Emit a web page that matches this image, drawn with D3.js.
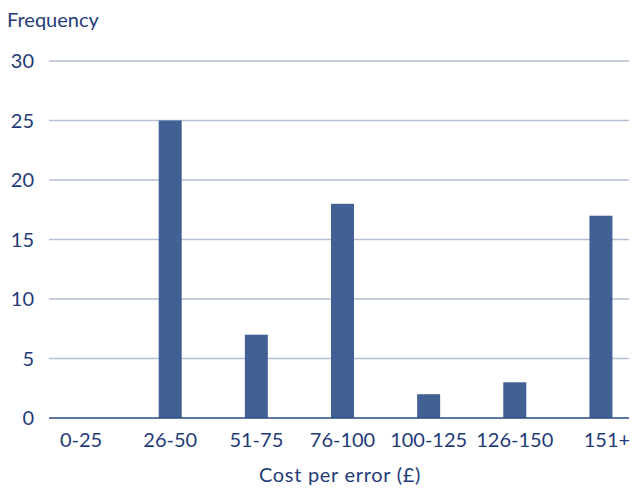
<!DOCTYPE html>
<html>
<head>
<meta charset="utf-8">
<script src="https://cdn.jsdelivr.net/npm/d3@7"></script>
<style>
  html, body { margin: 0; padding: 0; background: #fff; }
  svg { display: block; }
  text { font-family: Lato, "Open Sans", sans-serif; fill: #1f3b78; }
</style>
</head>
<body>
<script>
// Cost-per-error frequency distribution
const categories = ["0-25", "26-50", "51-75", "76-100", "100-125", "126-150", "151+"];
const frequencies = [0, 25, 7, 18, 2, 3, 17];
const yTicks = [0, 5, 10, 15, 20, 25, 30];
const yTitle = "Frequency";
const xTitle = "Cost per error (£)";

const W = 634, H = 490;
const plotLeft = 49, plotRight = 629;
const yTop = 61, yBottom = 418;

const svg = d3.select("body").append("svg")
  .attr("width", W).attr("height", H);

const x = d3.scaleBand()
  .domain(categories)
  .range([41, 644]);

const y = d3.scaleLinear()
  .domain([0, 30])
  .range([yBottom, yTop]);

const barW = 23;

// horizontal gridlines
svg.append("g")
  .selectAll("line")
  .data(yTicks.filter(d => d > 0))
  .join("line")
  .attr("x1", plotLeft).attr("x2", plotRight)
  .attr("y1", d => y(d)).attr("y2", d => y(d))
  .attr("stroke", "#b4bfd4").attr("stroke-width", 1.3);

// y tick labels
svg.append("g")
  .selectAll("text")
  .data(yTicks)
  .join("text")
  .attr("x", 34)
  .attr("y", d => y(d))
  .attr("dy", "0.36em")
  .attr("text-anchor", "end")
  .attr("font-size", 20)
  .text(d => d);

// bars
svg.append("g")
  .selectAll("rect")
  .data(categories.map((c, i) => ({ c, v: frequencies[i] })))
  .join("rect")
  .attr("x", d => x(d.c) + x.bandwidth() / 2 - barW / 2)
  .attr("width", barW)
  .attr("y", d => y(d.v))
  .attr("height", d => y(0) - y(d.v))
  .attr("fill", "#416195");

// baseline
svg.append("line")
  .attr("x1", plotLeft).attr("x2", plotRight)
  .attr("y1", y(0)).attr("y2", y(0))
  .attr("stroke", "#2a4a86").attr("stroke-width", 1.5);

// category labels
svg.append("g")
  .selectAll("text")
  .data(categories)
  .join("text")
  .attr("x", (d, i) => x(d) + x.bandwidth() / 2 - (i === 0 ? 3 : 0) + (i === 6 ? 6 : 0))
  .attr("y", 447)
  .attr("text-anchor", "middle")
  .attr("font-size", 20)
  .text(d => d);

// axis titles
svg.append("text")
  .attr("x", 7).attr("y", 27)
  .attr("font-size", 20)
  .text(yTitle);

svg.append("text")
  .attr("x", 340).attr("y", 482)
  .attr("text-anchor", "middle")
  .attr("font-size", 20)
  .attr("letter-spacing", 0.7)
  .text(xTitle);
</script>
</body>
</html>
